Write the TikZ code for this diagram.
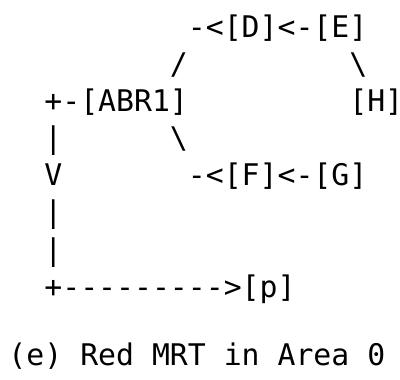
\documentclass[tikz,border=0pt]{standalone}
\usepackage{fontspec}
\setmonofont{DejaVu Sans Mono}
\usetikzlibrary{positioning}
\tikzset{
  art/.style     = {font=\ttfamily\fontsize{29.8}{37}\selectfont, anchor=base west,
                    inner sep=0pt, outer sep=0pt},
  router/.style  = {art},
  link/.style    = {art},
  caption/.style = {art},
}

\begin{document}
\begin{tikzpicture}[x=17.94pt, y=-37.1pt]
  \useasboundingbox ([xshift=-8.5pt, yshift=37.5pt]0,0) rectangle ([xshift=391.5pt, yshift=-342.5pt]0,0);

  % upper branch
  \node[link]   (dIn)  at (10,0) {-<};
  \node[router] (d)    at (12,0) {[D]};
  \node[link]   (de)   at (15,0) {<-};
  \node[router] (e)    at (17,0) {[E]};
  \node[link]   (up)   at (9,1)  {/};
  \node[link]   (eh)   at (19,1) {\textbackslash};

  % ABR1 and H
  \node[link]   (abrIn) at (2,2)  {+-};
  \node[router] (abr1)  at (4,2)  {[ABR1]};
  \node[router] (h)     at (19,2) {[H]};

  % lower branch
  \node[link]   (down) at (9,3)  {\textbackslash};
  \node[link]   (fIn)  at (10,4) {-<};
  \node[router] (f)    at (12,4) {[F]};
  \node[link]   (fg)   at (15,4) {<-};
  \node[router] (g)    at (17,4) {[G]};

  % path down to p
  \node[link]   (v1)   at (2,3) {|};
  \node[link]   (v2)   at (2,4) {V};
  \node[link]   (v3)   at (2,5) {|};
  \node[link]   (v4)   at (2,6) {|};
  \node[link]   (toP)  at (2,7) {+--------->};
  \node[router] (p)    at (13,7) {[p]};

  \node[caption] (cap) at (0,8.854) {(e) Red MRT in Area 0};
\end{tikzpicture}
\end{document}
